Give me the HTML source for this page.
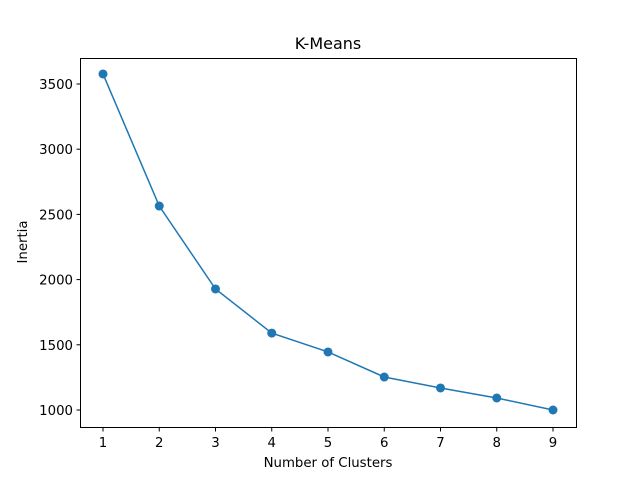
<!DOCTYPE html>
<html><head><meta charset="utf-8"><style>body{margin:0;background:#fff}svg{display:block;font-family:"DejaVu Sans","Liberation Sans",sans-serif}</style></head>
<body>
<svg id="chart" width="640" height="480">
<rect x="0" y="0" width="640" height="480" fill="#fff"/>
<text x="328" y="49" font-size="16" text-anchor="middle">K-Means</text>
<text x="328" y="467" font-size="13.3" text-anchor="middle">Number of Clusters</text>
<text transform="translate(27,242) rotate(-90)" font-size="13.3" text-anchor="middle">Inertia</text>
<g id="plot"></g>
<rect x="80.5" y="58.5" width="496" height="369" fill="none" stroke="#000" stroke-width="1"/>
</svg>
<script>
const clusters=[1,2,3,4,5,6,7,8,9];
const inertia=[3577,2564,1928,1590,1445,1253,1169,1092,1000];
const yTicks=[1000,1500,2000,2500,3000,3500];
const xTicks=[1,2,3,4,5,6,7,8,9];
const NS="http://www.w3.org/2000/svg";
const g=document.getElementById('plot');
function xs(v){return 103+(v-1)*56.25;}
function ys(v){return 410-(v-1000)*0.1304;}
function mk(t,a){const e=document.createElementNS(NS,t);for(const k in a)e.setAttribute(k,a[k]);g.appendChild(e);return e;}
xTicks.forEach(v=>{
 const l=mk('line',{x1:xs(v),x2:xs(v),y1:427.5,y2:431.5,stroke:'#000'});
 
 
 const t=mk('text',{x:xs(v),y:447,'font-size':'13.3','text-anchor':'middle'});t.textContent=v;
 
 
});
yTicks.forEach(v=>{
 const l=mk('line',{x1:76.5,x2:80.5,y1:ys(v),y2:ys(v),stroke:'#000'});
 
 
 const t=mk('text',{x:73,y:ys(v)+5,'font-size':'13.3','text-anchor':'end'});t.textContent=v;
 
 
});
const pts=clusters.map((c,i)=>xs(c)+','+ys(inertia[i])).join(' ');
const line=mk('polyline',{points:pts,fill:'none',stroke:'#1f77b4','stroke-width':1.5});


clusters.forEach((c,i)=>{
 const p=mk('circle',{cx:xs(c),cy:ys(inertia[i]),r:4.5,fill:'#1f77b4'});
 
 
});
</script>
</body></html>
